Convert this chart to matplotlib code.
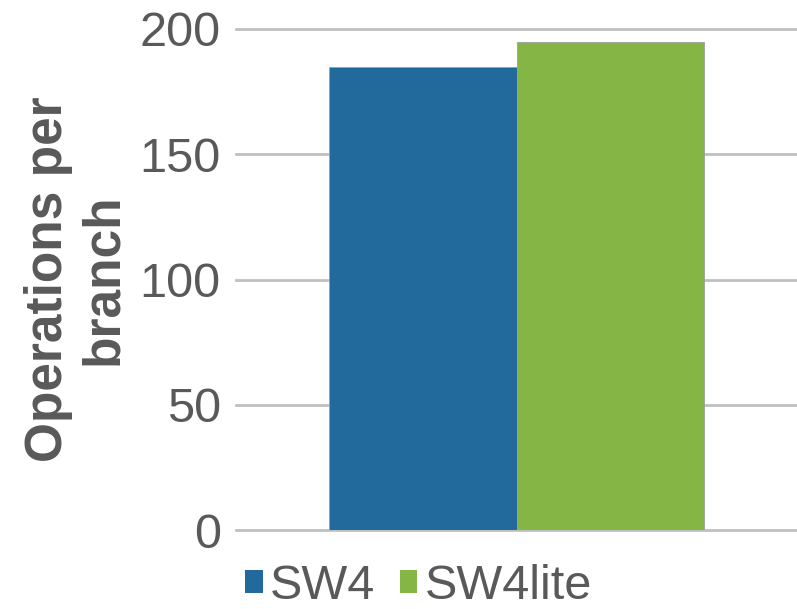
import matplotlib
matplotlib.use("Agg")
import matplotlib.pyplot as plt
from matplotlib.patches import Patch

plt.rcParams['font.family'] = ['Liberation Sans', 'DejaVu Sans']

series = ["SW4", "SW4lite"]
values = [185, 195]
colors = ["#226a9b", "#84b545"]
yticks = [0, 50, 100, 150, 200]
ylabel_lines = ["Operations per", "branch"]

text_color = "#595959"
grid_color = "#c0c0c0"

W, H = 797, 609
fig = plt.figure(figsize=(W / 100, H / 100), dpi=100)
ax = fig.add_axes([236 / W, 1 - 530 / H, 561 / W, 501 / H])

width = 0.335
offsets = [-width / 2, width / 2]
for name, val, col, off in zip(series, values, colors, offsets):
    ax.bar(off, val, width=width, color=col, edgecolor="#9aa0a0",
           linewidth=0.6, zorder=3, label=name)

ax.set_xlim(-0.5, 0.5)
ax.set_ylim(0, 200)
ax.set_yticks(yticks)
ax.set_yticklabels([str(t) for t in yticks])
ax.set_xticks([])
for s in ax.spines.values():
    s.set_visible(False)
ax.tick_params(axis="y", length=0, pad=11, labelsize=35, labelcolor=text_color)
for y in yticks:
    ax.axhline(y, color=grid_color, linewidth=2, zorder=1, clip_on=False)

# two-line rotated axis title, one baseline per line
for line, xb in zip(ylabel_lines, [62, 117]):
    fig.text(xb / W, 1 - 279 / H, line, rotation=90, rotation_mode="anchor",
             ha="center", va="baseline", fontsize=37, fontweight="bold",
             color=text_color)

handles = [Patch(facecolor=c, edgecolor="none") for c in colors]
leg = fig.legend(handles, series, ncol=2, loc="lower left",
                 bbox_to_anchor=(245 / W, 0.0), frameon=False,
                 fontsize=35, handlelength=0.36, handleheight=0.36,
                 handletextpad=0.16, columnspacing=0.5, borderpad=0.0,
                 borderaxespad=0)
for t in leg.get_texts():
    t.set_color(text_color)

fig.savefig("out.png", dpi=100)
